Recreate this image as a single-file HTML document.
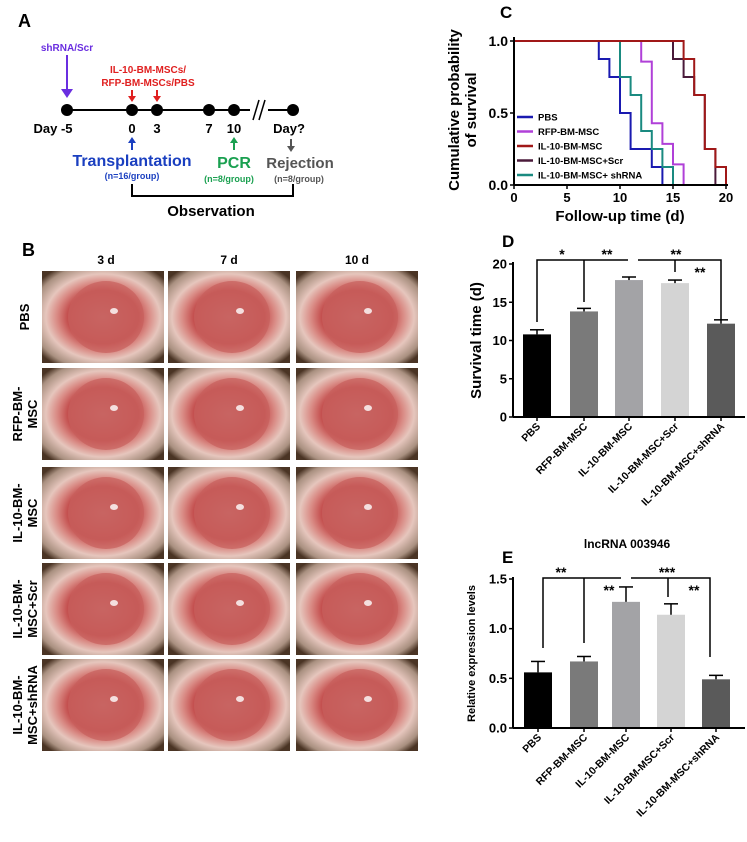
<!DOCTYPE html>
<html><head><meta charset="utf-8">
<style>
html,body{margin:0;padding:0;background:#fff;}
body{width:747px;height:842px;overflow:hidden;position:relative;font-family:"Liberation Sans",Arial,sans-serif;}
svg{position:absolute;left:0;top:0;}
text{font-family:"Liberation Sans",Arial,sans-serif;font-weight:bold;}
</style></head>
<body>
<svg id="fig" width="747" height="842" viewBox="0 0 747 842">
<defs>
<radialGradient id="eye" cx="50%" cy="50%" r="65%">
<stop offset="0" stop-color="#c9706f"/>
<stop offset="0.45" stop-color="#c4504f"/>
<stop offset="0.58" stop-color="#d98a84"/>
<stop offset="0.72" stop-color="#e6c6bd"/>
<stop offset="0.9" stop-color="#a99080"/>
<stop offset="1" stop-color="#4a3424"/>
</radialGradient>
</defs>

<!-- Panel A -->
<g>
<text x="18" y="27" font-size="18">A</text>
<line x1="67" y1="110" x2="250" y2="110" stroke="#000" stroke-width="2"/>
<line x1="268" y1="110" x2="293" y2="110" stroke="#000" stroke-width="2"/>
<line x1="253" y1="120" x2="259" y2="100" stroke="#000" stroke-width="1.5"/>
<line x1="259" y1="120" x2="265" y2="100" stroke="#000" stroke-width="1.5"/>
<g fill="#000">
<circle cx="67" cy="110" r="6"/><circle cx="132" cy="110" r="6"/><circle cx="157" cy="110" r="6"/>
<circle cx="209" cy="110" r="6"/><circle cx="234" cy="110" r="6"/><circle cx="293" cy="110" r="6"/>
</g>
<g font-size="13" text-anchor="middle">
<text x="53" y="133">Day -5</text><text x="132" y="133">0</text><text x="157" y="133">3</text>
<text x="209" y="133">7</text><text x="234" y="133">10</text><text x="289" y="133">Day?</text>
</g>
<text x="67" y="51" font-size="10" fill="#6a2ee0" text-anchor="middle">shRNA/Scr</text>
<line x1="67" y1="55" x2="67" y2="95" stroke="#6a2ee0" stroke-width="2"/>
<polygon points="61,89 73,89 67,98" fill="#6a2ee0"/>
<text x="148" y="73" font-size="10" fill="#e02020" text-anchor="middle">IL-10-BM-MSCs/</text>
<text x="148" y="86" font-size="10" fill="#e02020" text-anchor="middle">RFP-BM-MSCs/PBS</text>
<line x1="132" y1="90" x2="132" y2="100" stroke="#e02020" stroke-width="2"/><polygon points="128,96 136,96 132,102" fill="#e02020"/>
<line x1="157" y1="90" x2="157" y2="100" stroke="#e02020" stroke-width="2"/><polygon points="153,96 161,96 157,102" fill="#e02020"/>
<line x1="132" y1="150" x2="132" y2="140" stroke="#1a3fc0" stroke-width="2"/><polygon points="128,143 136,143 132,137" fill="#1a3fc0"/>
<text x="132" y="166" font-size="16" fill="#1a3fc0" text-anchor="middle">Transplantation</text>
<text x="132" y="179" font-size="9" fill="#1a3fc0" text-anchor="middle">(n=16/group)</text>
<line x1="234" y1="150" x2="234" y2="140" stroke="#1aa050" stroke-width="2"/><polygon points="230,143 238,143 234,137" fill="#1aa050"/>
<text x="234" y="168" font-size="16" fill="#1aa050" text-anchor="middle">PCR</text>
<text x="229" y="182" font-size="9" fill="#1aa050" text-anchor="middle">(n=8/group)</text>
<line x1="291" y1="139" x2="291" y2="149" stroke="#555" stroke-width="2"/><polygon points="287,146 295,146 291,152" fill="#555"/>
<text x="300" y="168" font-size="15" fill="#555" text-anchor="middle">Rejection</text>
<text x="299" y="182" font-size="9" fill="#555" text-anchor="middle">(n=8/group)</text>
<polyline points="132,184 132,196 293,196 293,184" fill="none" stroke="#000" stroke-width="2"/>
<text x="211" y="216" font-size="15" text-anchor="middle">Observation</text>
</g>

<!-- Panel B -->
<g id="panelB">
<text x="22" y="256" font-size="18">B</text>
<text x="106" y="264" font-size="12" text-anchor="middle">3 d</text>
<text x="229" y="264" font-size="12" text-anchor="middle">7 d</text>
<text x="357" y="264" font-size="12" text-anchor="middle">10 d</text>
</g>

<!-- Panel C -->
<g id="panelC">
<text x="500" y="18" font-size="17">C</text>
</g>
<!-- Panel D -->
<g id="panelD">
<text x="502" y="247" font-size="17">D</text>
</g>
<!-- Panel E -->
<g id="panelE">
<text x="502" y="563" font-size="17">E</text>
<text x="627" y="548" font-size="12" text-anchor="middle">lncRNA 003946</text>
</g>
</svg>
<script>
const NS='http://www.w3.org/2000/svg';
function mk(parent,tag,attrs,txt){const e=document.createElementNS(NS,tag);for(const k in attrs)e.setAttribute(k,attrs[k]);if(txt!==undefined)e.textContent=txt;parent.appendChild(e);return e;}

// ---- Panel B photos
const rowLabels=[["PBS"],["RFP-BM-","MSC"],["IL-10-BM-","MSC"],["IL-10-BM-","MSC+Scr"],["IL-10-BM-","MSC+shRNA"]];
const colX=[42,168,296], rowY=[271,368,467,563,659];
const gB=document.getElementById('panelB');
rowY.forEach((ry,ri)=>{
  colX.forEach((cx,ci)=>{
    const r=mk(gB,'rect',{x:cx,y:ry,width:122,height:92,fill:'url(#eye)'});
    
    
    mk(gB,'ellipse',{cx:cx+64,cy:ry+46,rx:38,ry:36,fill:'#c8605c',opacity:0.7});
    mk(gB,'ellipse',{cx:cx+72,cy:ry+40,rx:4,ry:3,fill:'#fff',opacity:0.8});
  });
  const lines=rowLabels[ri];
  const cy=ry+46;
  const t=mk(gB,'text',{transform:`translate(0,${cy}) rotate(-90)`,'font-size':13,'text-anchor':'middle'});
  
  
  lines.forEach((l,i)=>{mk(t,'tspan',{x:0,y:(lines.length===1?29:22+i*15)},l);});
});

// ---- Panel C survival
const survNames=["PBS","RFP-BM-MSC","IL-10-BM-MSC","IL-10-BM-MSC+Scr","IL-10-BM-MSC+ shRNA"];
const survColors=["#1a1ab0","#b040d8","#a01818","#4a1a3a","#1a8a80"];
const pbsT=[0,8,9,10,11,13,14], pbsS=[1,0.875,0.75,0.5,0.25,0.125,0];
const rfpT=[0,12,13,14,15,16], rfpS=[1,0.857,0.429,0.286,0.143,0];
const il10T=[0,16,17,18,19,20], il10S=[1,0.875,0.625,0.25,0.125,0];
const scrT=[0,15,16,17,18,19], scrS=[1,0.875,0.75,0.625,0.25,0];
const shT=[0,10,11,12,13,14,15], shS=[1,0.75,0.625,0.375,0.25,0.125,0];
const xTicks=[0,5,10,15,20], yTicksC=[0,0.5,1.0];
const gC=document.getElementById('panelC');
const cx0=514,cx1=726,cy0=185,cy1=41;
const xC=t=>cx0+(t/20)*(cx1-cx0), yC=s=>cy0-s*(cy0-cy1);
function stepPath(T,S){let d=`M${xC(T[0])},${yC(S[0])}`;for(let i=1;i<T.length;i++){d+=` H${xC(T[i])} V${yC(S[i])}`;}return d;}
[[scrT,scrS],[pbsT,pbsS],[rfpT,rfpS],[shT,shS],[il10T,il10S]].forEach((p,k)=>{
  const idx=[3,0,1,4,2][k];
  const path=mk(gC,'path',{d:stepPath(p[0],p[1]),fill:'none',stroke:survColors[idx],'stroke-width':2});
  
  
});
mk(gC,'line',{x1:cx0,y1:cy1-4,x2:cx0,y2:cy0,stroke:'#000','stroke-width':2});
mk(gC,'line',{x1:cx0,y1:cy0,x2:cx1+2,y2:cy0,stroke:'#000','stroke-width':2});
xTicks.forEach(v=>{mk(gC,'line',{x1:xC(v),y1:cy0,x2:xC(v),y2:cy0+4,stroke:'#000','stroke-width':1.5});
  const t=mk(gC,'text',{x:xC(v),y:cy0+17,'font-size':13,'text-anchor':'middle'},v);
  });
yTicksC.forEach(v=>{mk(gC,'line',{x1:cx0-4,y1:yC(v),x2:cx0,y2:yC(v),stroke:'#000','stroke-width':1.5});
  const t=mk(gC,'text',{x:cx0-6,y:yC(v)+5,'font-size':14,'text-anchor':'end'},v.toFixed(1));
  });
const xt=mk(gC,'text',{x:620,y:221,'font-size':15,'text-anchor':'middle'},'Follow-up time (d)');

const yt=mk(gC,'text',{transform:'translate(0,110) rotate(-90)','font-size':15,'text-anchor':'middle'});

mk(yt,'tspan',{x:0,y:459},'Cumulative probability');mk(yt,'tspan',{x:0,y:476},'of survival');
survNames.forEach((n,i)=>{const y=117+i*14.5;
  mk(gC,'line',{x1:517,y1:y,x2:533,y2:y,stroke:survColors[i],'stroke-width':2.5});
  const t=mk(gC,'text',{x:538,y:y+3.5,'font-size':9.5},n);
  });

// ---- bar chart helper
const barCats=["PBS","RFP-BM-MSC","IL-10-BM-MSC","IL-10-BM-MSC+Scr","IL-10-BM-MSC+shRNA"];
const barFills=["#000","#7a7a7a","#a3a3a6","#d4d4d4","#5a5a5a"];
const dVals=[10.8,13.8,17.9,17.5,12.2], dErr=[0.6,0.4,0.4,0.4,0.5], dTicks=[0,5,10,15,20];
const eVals=[0.56,0.67,1.27,1.14,0.49], eErr=[0.11,0.05,0.15,0.11,0.04], eTicks=[0.0,0.5,1.0,1.5];
function bars(g,vals,errs,ticks,ymax,y0,y1,centers,fmt,ytitle,ytitleSize){
  const ys=v=>y0-(v/ymax)*(y0-y1);
  vals.forEach((v,i)=>{
    const b=mk(g,'rect',{x:centers[i]-14,y:ys(v),width:28,height:y0-ys(v),fill:barFills[i]});
    
    mk(g,'line',{x1:centers[i],y1:ys(v),x2:centers[i],y2:ys(v+errs[i]),stroke:'#000','stroke-width':1.5});
    mk(g,'line',{x1:centers[i]-7,y1:ys(v+errs[i]),x2:centers[i]+7,y2:ys(v+errs[i]),stroke:'#000','stroke-width':1.5});
    mk(g,'line',{x1:centers[i],y1:y0,x2:centers[i],y2:y0+4,stroke:'#000','stroke-width':1.5});
    const t=mk(g,'text',{transform:`translate(${centers[i]+4},${y0+10}) rotate(-45)`,'font-size':10.5,'text-anchor':'end'},barCats[i]);
    
  });
  mk(g,'line',{x1:513,y1:y1-2,x2:513,y2:y0,stroke:'#000','stroke-width':2});
  mk(g,'line',{x1:513,y1:y0,x2:745,y2:y0,stroke:'#000','stroke-width':2});
  ticks.forEach(v=>{mk(g,'line',{x1:509,y1:ys(v),x2:513,y2:ys(v),stroke:'#000','stroke-width':1.5});
    const t=mk(g,'text',{x:507,y:ys(v)+4.5,'font-size':13,'text-anchor':'end'},fmt(v));
    });
  const yt=mk(g,'text',{transform:`translate(${ytitleSize>12?481:475},${(y0+y1)/2}) rotate(-90)`,'font-size':ytitleSize,'text-anchor':'middle'},ytitle);
  
  return ys;
}
const gD=document.getElementById('panelD');
const dC=[537,584,629,675,721];
bars(gD,dVals,dErr,dTicks,20,417,264,dC,v=>v,'Survival time (d)',15);
function poly(g,pts){mk(g,'polyline',{points:pts,fill:'none',stroke:'#000','stroke-width':1.5});}
poly(gD,'537,322 537,260 628,260');poly(gD,'584,260 584,302');
poly(gD,'638,260 721,260 721,320');poly(gD,'675,260 675,272');
[[562,259,'*'],[607,259,'**'],[676,259,'**'],[700,277,'**']].forEach(s=>mk(gD,'text',{x:s[0],y:s[1],'font-size':14,'text-anchor':'middle'},s[2]));

const gE=document.getElementById('panelE');
const eC=[538,584,626,671,716];
bars(gE,eVals,eErr,eTicks,1.5,728,579,eC,v=>v.toFixed(1),'Relative expression levels',11);
poly(gE,'543,648 543,578 621,578');poly(gE,'584,578 584,643');
poly(gE,'631,578 710,578 710,657');poly(gE,'668,578 668,597');
[[561,577,'**'],[609,595,'**'],[667,577,'***'],[694,595,'**']].forEach(s=>mk(gE,'text',{x:s[0],y:s[1],'font-size':14,'text-anchor':'middle'},s[2]));
</script>
</body></html>
